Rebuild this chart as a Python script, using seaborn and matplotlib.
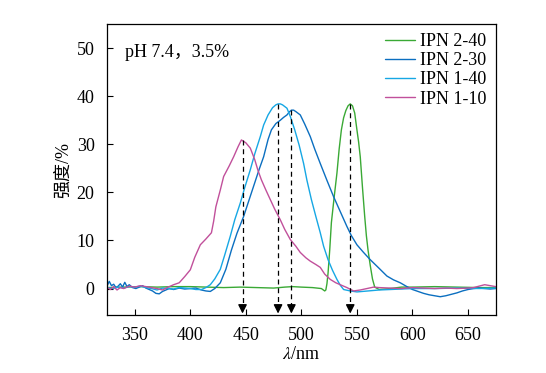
import matplotlib
matplotlib.use("Agg")
import matplotlib.pyplot as plt
import seaborn as sns
import pandas as pd

# IPN 1-10 (magenta)
wl_110 = [325, 328, 331, 334, 337, 340, 345, 350, 355, 360, 365, 370, 375, 380, 385, 390,
          395, 400, 404, 409, 414, 419, 421, 423, 427, 430, 435, 439, 443, 446, 450, 454,
          458, 461, 464, 468, 472, 476, 481, 485, 490, 495, 499, 504, 508, 513, 517, 521,
          526, 531, 535, 541, 547, 553, 559, 565, 570, 580, 590, 600, 610, 620, 630, 640,
          650, 655, 660, 665, 670, 675]
val_110 = [0.3, -0.2, 0.4, -0.3, 0.2, 0.0, 0.5, 0.3, 0.6, 0.4, 0.2, 0.0, -0.3, 0.3, 0.8, 1.2,
           2.5, 3.9, 6.5, 9.1, 10.3, 11.6, 14.0, 17.0, 20.5, 23.3, 25.5, 27.4, 29.5, 30.9, 30.3, 29.2,
           26.8, 24.5, 22.6, 20.5, 18.5, 16.5, 14.3, 12.3, 10.2, 8.8, 7.5, 6.4, 5.7, 5.0, 4.4, 3.0,
           1.9, 1.2, 0.8, 0.2, -0.5, -0.3, 0.0, 0.3, 0.2, 0.1, 0.0, 0.2, 0.1, 0.0, 0.1, 0.0,
           0.1, 0.2, 0.5, 0.8, 0.6, 0.4]

# IPN 1-40 (light blue)
wl_140 = [325, 330, 335, 340, 345, 350, 355, 360, 365, 370, 375, 380, 385, 390, 395, 400,
          405, 410, 414, 418, 422, 427, 431, 436, 440, 445, 449, 454, 458, 463, 466, 470,
          474, 477, 479, 481, 483, 487, 490, 494, 498, 502, 505, 509, 513, 517, 520, 524,
          528, 532, 535, 538, 544, 550, 560, 570, 580, 590, 600, 620, 640, 660, 675]
val_140 = [0.2, 0.0, 0.3, 0.1, 0.4, 0.3, 0.5, 0.2, 0.0, -0.3, 0.1, 0.0, -0.1, 0.2, 0.1, 0.0,
           -0.2, -0.2, 0.2, 0.8, 2.0, 4.0, 7.0, 10.9, 14.3, 17.8, 21.0, 24.7, 28.0, 31.6, 34.0, 36.1,
           37.6, 38.2, 38.4, 38.4, 38.2, 37.5, 35.8, 33.0, 29.8, 26.0, 22.5, 18.5, 15.0, 11.6, 8.8, 6.0,
           3.8, 1.9, 0.7, -0.2, -0.5, -0.7, -0.5, -0.3, -0.2, -0.1, 0.0, 0.0, 0.1, 0.0, 0.1]

# IPN 2-30 (dark blue)
wl_230 = [325, 327, 329, 331, 333, 335, 337, 339, 341, 343, 345, 348, 351, 354, 357, 360,
          363, 366, 369, 372, 375, 378, 381, 385, 390, 395, 400, 405, 410, 414, 418, 422,
          427, 432, 437, 442, 448, 453, 458, 462, 466, 470, 473, 477, 481, 484, 487, 489,
          491, 493, 495, 499, 503, 508, 512, 517, 523, 529, 535, 541, 545, 550, 556, 562,
          570, 577, 583, 589, 595, 600, 605, 610, 615, 620, 625, 630, 635, 640, 645, 650,
          655, 660, 665, 670, 675]
val_230 = [0.5, 1.5, 0.6, 0.9, 0.2, 0.5, 1.0, 0.3, 1.3, 0.4, 0.8, 0.2, 0.0, 0.3, 0.6, 0.1,
           -0.2, -0.5, -1.0, -1.1, -0.6, -0.3, 0.0, -0.2, 0.1, -0.1, 0.0, 0.1, -0.3, -0.5, -0.6, 0.0,
           1.2, 4.0, 8.0, 11.5, 15.0, 18.5, 22.0, 24.8, 27.4, 31.0, 33.0, 34.3, 35.0, 35.6, 36.1, 36.7,
           37.1, 37.1, 36.8, 36.1, 34.2, 31.6, 29.0, 26.0, 22.5, 19.1, 16.0, 12.9, 11.0, 9.1, 7.5, 6.0,
           4.2, 2.6, 1.8, 1.2, 0.4, -0.2, -0.6, -1.0, -1.3, -1.5, -1.7, -1.5, -1.2, -0.9, -0.5, -0.2,
           0.0, 0.1, 0.0, -0.1, 0.0]

# IPN 2-40 (green)
wl_240 = [325, 340, 355, 370, 385, 400, 415, 430, 445, 460, 475, 485, 492, 500, 510, 518,
          521, 522, 523, 524, 525.5, 527, 529.5, 532, 534, 536, 538, 540, 542, 544, 546, 548,
          550, 551.5, 553, 555, 557, 558.5, 560, 562, 564, 566, 570, 580, 590, 600, 620, 640,
          660, 675]
val_240 = [0.2, 0.3, 0.4, 0.3, 0.4, 0.4, 0.3, 0.2, 0.3, 0.2, 0.1, 0.3, 0.4, 0.3, 0.2, 0.0,
           -0.5, -0.3, 1.0, 3.2, 8.0, 13.7, 19.0, 24.0, 29.0, 33.0, 35.5, 37.0, 38.0, 38.4, 38.0, 36.5,
           33.0, 30.5, 27.4, 21.0, 15.0, 11.0, 8.0, 4.8, 2.0, 0.3, -0.2, 0.0, 0.3, 0.3, 0.4, 0.3,
           0.2, 0.2]

series = ["IPN 2-40", "IPN 2-30", "IPN 1-40", "IPN 1-10"]
colors = ["#3aa935", "#0b6fc0", "#16a7e4", "#c1509b"]

# peak markers (wavelength, top of dashed line)
peak_wl = [447, 479, 491, 544]
peak_top = [30.8, 38.4, 37.1, 38.4]

frames = [
    pd.DataFrame({"wl": wl_240, "val": val_240, "sample": "IPN 2-40"}),
    pd.DataFrame({"wl": wl_230, "val": val_230, "sample": "IPN 2-30"}),
    pd.DataFrame({"wl": wl_140, "val": val_140, "sample": "IPN 1-40"}),
    pd.DataFrame({"wl": wl_110, "val": val_110, "sample": "IPN 1-10"}),
]
df = pd.concat(frames, ignore_index=True)

sns.set_style("ticks")
plt.rcParams["font.family"] = ["Liberation Serif", "Noto Sans CJK SC"]
plt.rcParams["mathtext.fontset"] = "stix"
for key in ["text.color", "axes.labelcolor", "xtick.color", "ytick.color"]:
    plt.rcParams[key] = "black"

fig = plt.figure(figsize=(5.46, 3.73), dpi=100)
ax = fig.add_axes([0.196, 0.1555, 0.712, 0.78])

sns.lineplot(data=df, x="wl", y="val", hue="sample", hue_order=series,
             palette=colors, estimator=None, sort=True, lw=1.0, ax=ax)

y_bottom = -5.5
for x, top in zip(peak_wl, peak_top):
    ax.plot([x, x], [top, y_bottom + 1.5], color="black", lw=0.9, ls=(0, (4, 3)))
    ax.annotate("", xy=(x, y_bottom + 0.3), xytext=(x, y_bottom + 2.0),
                arrowprops=dict(arrowstyle="-|>", color="black", lw=1.0,
                                mutation_scale=13, shrinkA=0, shrinkB=0))

ax.set_xlim(325, 675)
ax.set_ylim(y_bottom, 55)
ax.set_xticks([350, 400, 450, 500, 550, 600, 650])
ax.set_yticks([0, 10, 20, 30, 40, 50])
ax.tick_params(direction="in", labelsize=13, length=4, width=0.8,
               top=False, right=False)
ax.tick_params(axis="x", pad=9)
ax.tick_params(axis="y", pad=9)
for s in ax.spines.values():
    s.set_visible(True)
    s.set_linewidth(0.9)
    s.set_color("black")

ax.set_xlabel(r"$\lambda$/nm", fontsize=13, labelpad=1)
ax.set_ylabel("强度/%", fontsize=13, labelpad=3)

ax.text(0.045, 0.93, "pH 7.4，3.5%", transform=ax.transAxes, fontsize=13,
        va="top", ha="left")

leg = ax.legend(loc="upper right", frameon=False, fontsize=13, handlelength=1.65,
                handletextpad=0.3, labelspacing=0.12, borderaxespad=0.1,
                bbox_to_anchor=(1.0, 1.0))
for line in leg.get_lines():
    line.set_linewidth(1.0)

fig.savefig("out.png", dpi=100)
